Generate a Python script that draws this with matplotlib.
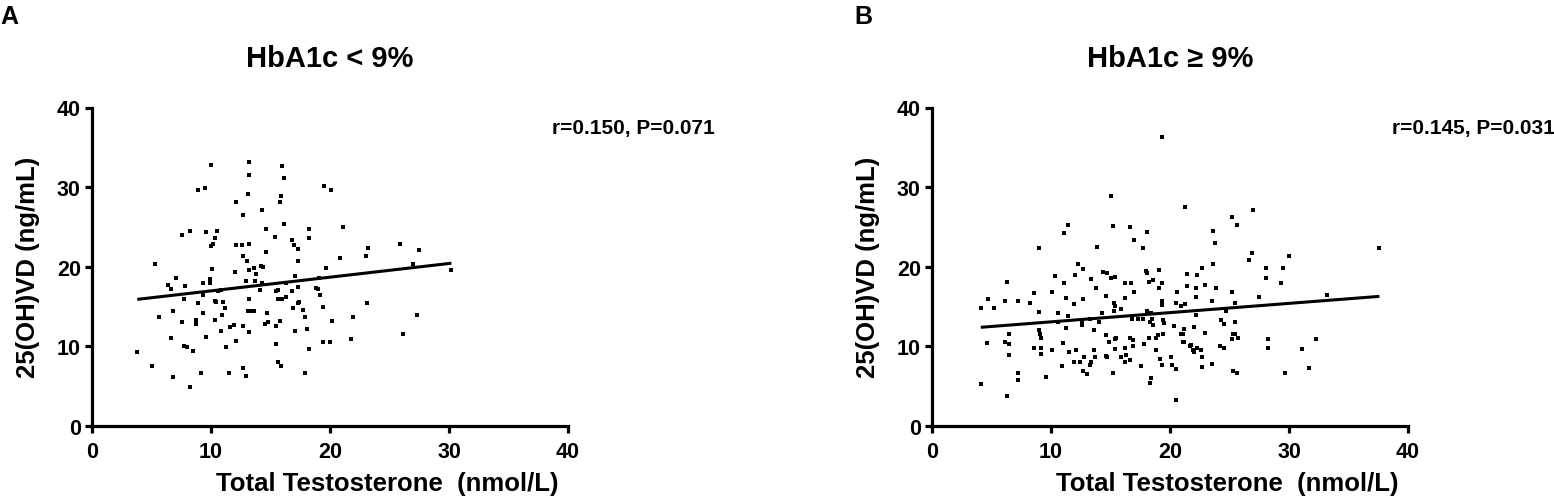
import matplotlib
matplotlib.use("Agg")
import matplotlib.pyplot as plt
import numpy as np

plt.rcParams['font.family'] = ['Liberation Sans', 'DejaVu Sans']
plt.rcParams['font.weight'] = 'bold'

# panel A: HbA1c < 9%
x_a = [10.0, 13.2, 16.0, 13.2, 16.1, 8.9, 9.5, 19.5, 20.1, 13.1,
       15.9, 15.8, 12.1, 14.3, 12.7, 16.1, 21.1, 14.6, 18.2, 7.6,
       8.2, 9.6, 10.5, 10.3, 15.4, 18.2, 16.8, 10.0, 10.2, 12.1,
       12.6, 13.2, 17.0, 17.3, 12.7, 14.6, 13.0, 20.8, 17.3, 5.3,
       14.2, 14.4, 10.1, 13.2, 13.6, 19.7, 12.0, 13.8, 7.1, 9.9,
       12.9, 13.7, 19.1, 6.4, 7.8, 9.3, 9.9, 14.3, 6.6, 9.3,
       10.6, 10.8, 14.1, 15.5, 15.6, 16.3, 17.1, 17.3, 16.8, 18.8,
       19.0, 19.2, 7.7, 8.9, 10.3, 10.4, 11.0, 13.2, 15.6, 16.0,
       16.3, 17.3, 17.4, 19.4, 11.2, 16.9, 17.7, 6.8, 9.3, 10.9,
       13.1, 13.4, 13.6, 14.7, 5.6, 17.9, 7.6, 8.7, 8.7, 10.3,
       14.5, 14.8, 15.8, 10.8, 11.6, 11.9, 12.7, 15.5, 17.1, 18.1,
       13.2, 6.6, 9.6, 12.1, 19.4, 20.0, 20.2, 21.8, 21.9, 7.7,
       8.0, 8.5, 11.3, 15.5, 18.2, 3.8, 5.0, 15.6, 15.9, 12.7,
       6.8, 9.2, 11.5, 12.9, 17.9, 8.2, 25.9, 27.5, 23.2, 23.0,
       27.0, 30.2, 23.1, 27.3, 26.1]
y_a = [32.8, 33.2, 32.6, 31.5, 31.2, 29.7, 29.9, 30.1, 29.7, 29.1,
       28.9, 28.1, 28.1, 27.1, 26.5, 25.4, 25.0, 24.8, 24.7, 24.0,
       24.5, 24.4, 24.5, 23.6, 23.7, 23.6, 23.3, 22.6, 22.8, 22.7,
       22.7, 22.9, 22.7, 22.2, 21.4, 21.9, 20.7, 21.1, 20.7, 20.3,
       20.1, 20.0, 19.7, 19.6, 19.8, 19.9, 19.3, 19.1, 18.6, 18.5,
       18.2, 18.2, 18.6, 17.7, 17.6, 17.9, 17.9, 17.9, 17.2, 16.4,
       16.9, 17.1, 17.1, 17.0, 17.1, 18.0, 18.8, 17.4, 16.9, 17.3,
       17.2, 16.4, 15.9, 15.4, 15.7, 15.6, 15.6, 15.9, 16.0, 16.0,
       16.2, 15.5, 15.6, 15.0, 14.8, 14.8, 14.6, 14.4, 14.2, 14.0,
       14.5, 14.4, 14.4, 14.2, 13.7, 13.7, 13.0, 13.3, 12.8, 13.3,
       12.8, 13.0, 13.2, 11.9, 12.4, 12.7, 12.5, 12.5, 11.9, 12.2,
       11.8, 11.0, 11.2, 10.7, 10.6, 10.6, 13.2, 10.9, 13.7, 10.1,
       9.9, 9.4, 9.9, 10.3, 9.7, 9.3, 7.5, 8.0, 7.5, 7.3,
       6.2, 6.6, 6.6, 6.3, 6.6, 4.9, 22.9, 22.1, 22.3, 21.3,
       20.4, 19.6, 15.4, 14.0, 11.6]

# panel B: HbA1c >= 9%
x_b = [19.3, 15.0, 11.4, 11.1, 15.2, 16.6, 18.1, 17.0, 17.7, 9.0,
       13.9, 12.3, 12.7, 12.0, 10.3, 14.4, 14.7, 15.0, 15.4, 13.4,
       18.0, 18.1, 19.1, 6.3, 11.1, 16.2, 16.7, 18.2, 18.6, 19.3,
       13.8, 19.1, 8.6, 10.1, 17.0, 4.7, 6.1, 7.2, 8.2, 11.3,
       12.7, 14.6, 16.2, 15.3, 11.9, 15.4, 19.3, 19.3, 4.1, 5.2,
       15.9, 15.3, 9.0, 10.6, 14.3, 18.1, 18.4, 11.4, 10.6, 12.6,
       12.6, 13.3, 14.0, 16.8, 17.3, 17.7, 18.5, 18.3, 18.6, 19.4,
       19.5, 11.3, 9.0, 13.6, 20.3, 9.1, 9.2, 14.6, 4.6, 6.1,
       6.5, 6.5, 11.0, 14.9, 15.4, 15.5, 16.6, 16.9, 18.2, 18.8,
       19.0, 19.4, 8.6, 9.2, 10.1, 12.1, 13.6, 15.4, 16.2, 16.9,
       17.8, 18.8, 9.2, 11.5, 6.5, 12.8, 13.7, 14.6, 14.7, 15.9,
       16.3, 16.2, 16.6, 19.2, 20.1, 10.9, 11.9, 12.4, 13.3, 13.4,
       12.7, 15.2, 17.6, 19.3, 20.2, 20.5, 13.0, 7.2, 7.2, 9.6,
       18.3, 18.4, 4.1, 6.3, 20.5,
       21.3, 27.0, 25.2, 25.6, 23.6, 23.8, 37.6, 26.9, 26.6, 30.0,
       23.6, 22.7, 28.1, 29.5, 21.4, 22.3, 28.1, 21.4, 22.2, 22.9,
       23.9, 29.3, 20.6, 25.2, 22.2, 23.5, 25.5, 27.5, 33.2, 20.5,
       21.3, 20.9, 22.2, 24.7, 24.3, 24.5, 25.5, 21.2, 22.0, 22.9,
       20.9, 21.1, 25.3, 25.5, 25.7, 25.2, 21.1, 21.2, 21.7, 21.8,
       24.2, 24.5, 22.3, 22.6, 21.9, 22.0, 22.7, 28.2, 28.2, 32.3,
       31.1, 23.5, 22.7, 25.3, 25.6, 29.7, 31.7]
y_b = [36.3, 28.9, 25.3, 24.3, 25.1, 25.0, 24.4, 23.3, 22.4, 22.4,
       22.5, 20.4, 19.7, 19.0, 18.9, 19.3, 19.2, 18.6, 18.7, 18.5,
       19.5, 19.2, 19.6, 18.1, 18.0, 18.0, 17.9, 18.1, 18.3, 18.0,
       17.3, 17.3, 16.7, 16.8, 16.8, 15.9, 15.7, 15.7, 15.5, 16.1,
       15.9, 16.3, 16.1, 15.5, 15.3, 15.1, 15.7, 15.2, 14.8, 14.8,
       14.7, 14.5, 14.3, 14.2, 14.2, 14.4, 14.2, 13.8, 13.1, 13.1,
       12.7, 13.4, 13.0, 13.4, 13.4, 13.4, 13.5, 13.1, 12.7, 13.3,
       12.9, 12.3, 12.1, 12.1, 12.6, 11.5, 11.0, 11.4, 10.4, 10.5,
       10.3, 11.5, 10.4, 10.5, 10.9, 11.1, 11.1, 10.8, 11.0, 11.1,
       11.4, 11.6, 9.8, 9.8, 9.5, 9.5, 9.6, 9.7, 9.8, 10.0,
       10.3, 9.6, 9.1, 9.3, 8.9, 8.7, 8.7, 8.8, 8.7, 8.7,
       8.9, 8.1, 8.3, 8.4, 8.7, 7.5, 8.1, 8.1, 7.7, 8.0,
       6.9, 6.7, 7.5, 7.7, 7.7, 7.2, 6.5, 6.6, 5.8, 6.2,
       5.4, 6.0, 5.3, 3.8, 3.3,
       27.5, 27.1, 26.2, 25.3, 24.5, 23.0, 22.4, 21.7, 20.9, 21.3,
       20.4, 19.9, 19.9, 19.8, 19.1, 19.0, 18.6, 17.6, 17.3, 17.7,
       17.3, 17.9, 16.8, 16.8, 16.2, 15.7, 15.5, 16.2, 16.4, 15.5,
       15.3, 15.1, 14.0, 14.4, 13.3, 12.8, 13.1, 12.2, 12.4, 11.7,
       11.6, 11.6, 11.6, 11.6, 11.1, 10.9, 10.6, 10.5, 10.1, 10.2,
       10.1, 9.8, 9.8, 9.6, 9.5, 9.3, 8.7, 10.9, 9.8, 10.9,
       9.7, 7.8, 7.4, 6.9, 6.7, 6.7, 7.3]

# regression lines (slope, intercept)
fit_a = (0.172, 15.25)
fit_b = (0.116, 11.92)

titles = ['HbA1c < 9%', 'HbA1c \u2265 9%']
stats = ['r=0.150, P=0.071', 'r=0.145, P=0.031']
letters = ['A', 'B']
ticks = [0, 10, 20, 30, 40]

W, H = 1554, 502
fig = plt.figure(figsize=(W / 100, H / 100), dpi=100)

panels = [(x_a, y_a, fit_a, 92), (x_b, y_b, fit_b, 932)]
for i, (xs, ys, fit, left) in enumerate(panels):
    ax = fig.add_axes([left / W, (H - 427) / H, 476 / W, 318.5 / H])
    ax.plot(xs, ys, 's', color='black', ms=2.6, mew=0)
    lx = np.array([min(xs), max(xs)])
    ax.plot(lx, fit[0] * lx + fit[1], color='black', lw=2.2, solid_capstyle='butt')

    ax.set_xlim(0, 40)
    ax.set_ylim(0, 40)
    ax.set_xticks(ticks)
    ax.set_yticks(ticks)
    for s in ['top', 'right']:
        ax.spines[s].set_visible(False)
    for s in ['left', 'bottom']:
        ax.spines[s].set_linewidth(2.3)
    ax.tick_params(width=2.3, length=5, labelsize=15.5, direction='out')
    ax.tick_params(axis='x', pad=6)
    ax.tick_params(axis='y', pad=3)

    ax.set_xlabel('Total Testosterone  (nmol/L)', fontsize=18.5, fontweight='bold', va='center')
    ax.xaxis.set_label_coords(0.62, -0.179)
    ax.set_ylabel('25(OH)VD (ng/mL)', fontsize=18.5, fontweight='bold', va='center')
    ax.yaxis.set_label_coords(-0.134, 0.5)

    ax.text(1.309, 0.937, stats[i], transform=ax.transAxes, ha='right', va='center',
            fontsize=15, fontweight='bold')
    fig.text((left + 238) / W, 1 - 59 / H, titles[i], ha='center', va='center',
             fontsize=21, fontweight='bold')
    fig.text((left - 92 + (0 if i == 0 else 14)) / W, 1 - 17 / H, letters[i],
             ha='left', va='center', fontsize=18, fontweight='bold')

fig.savefig('out.png', dpi=100)
